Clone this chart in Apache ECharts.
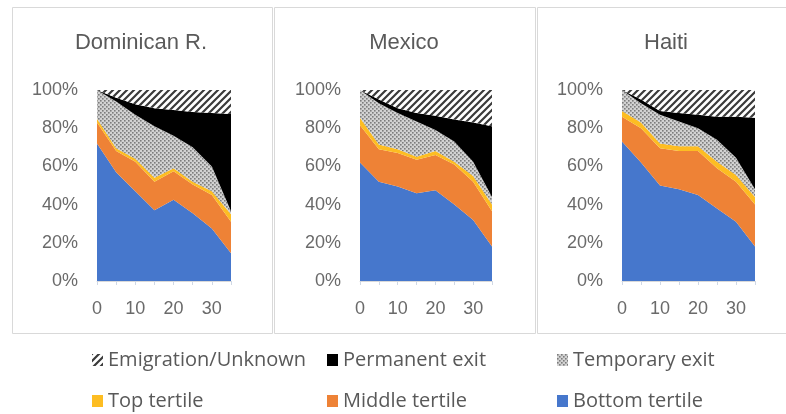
<!DOCTYPE html>
<html>
<head>
<meta charset="utf-8">
<script src="https://cdn.jsdelivr.net/npm/echarts@6/dist/echarts.min.js"></script>
<style>
  html, body { margin: 0; padding: 0; background: #ffffff; }
  #chart { width: 786px; height: 414px; }
</style>
</head>
<body>
<div id="chart"></div>
<script>
// Years since entry (x categories) and panel titles
const years = ['0', '5', '10', '15', '20', '25', '30', '35'];
const countries = ['Dominican R.', 'Mexico', 'Haiti'];

// Shares (%) per status; one row per country, in the order of `countries`
const bottomTertile = [
  [72, 57, 47, 37, 42.5, 35.5, 27.5, 14.5],
  [62, 52, 49.5, 46, 47.5, 40, 32, 18],
  [73, 62, 50, 48, 45, 38, 31, 18]
];
const middleTertile = [
  [11, 11, 15.5, 15, 15, 15, 17.5, 16.5],
  [19.5, 17, 17.5, 17.5, 18.5, 21, 20, 18.5],
  [13, 18, 19.5, 20, 23, 21, 21, 22]
];
const topTertile = [
  [2, 1.5, 1.5, 2, 1.5, 1.5, 2, 4],
  [4, 2.5, 2, 1.5, 2, 1.5, 3, 3.5],
  [3, 3, 2.5, 2.5, 2.5, 3.5, 3.5, 4]
];
const temporaryExit = [
  [15, 24.5, 23, 27, 17, 18, 13, 1.5],
  [14.5, 21.5, 19, 18.5, 11, 10.5, 7.5, 4],
  [11, 10, 15, 13, 9.5, 11.5, 9, 4]
];
const permanentExit = [
  [0, 2, 5.5, 9.5, 13.5, 18.5, 28, 51],
  [0, 2, 2.5, 4.5, 7.5, 11.5, 20.5, 37],
  [0, 2, 2, 4.5, 7, 12, 21.5, 37.5]
];
const emigrationUnknown = [
  [0, 4, 7.5, 9.5, 10.5, 11.5, 12, 12.5],
  [0, 5, 9.5, 12, 13.5, 15.5, 17, 19],
  [0, 5, 11, 12, 13, 14, 14, 14.5]
];

// Fill patterns
function hatchPattern() {
  const s = 7;
  const c = document.createElement('canvas');
  c.width = s; c.height = s;
  const g = c.getContext('2d');
  g.fillStyle = '#ffffff';
  g.fillRect(0, 0, s, s);
  g.strokeStyle = '#3a3a3a';
  g.lineWidth = 2.2;
  g.beginPath();
  g.moveTo(-1, s + 1); g.lineTo(s + 1, -1);
  g.moveTo(-s / 2 - 1, s / 2 + 1); g.lineTo(s / 2 + 1, -s / 2 - 1);
  g.moveTo(s / 2 - 1, s * 1.5 + 1); g.lineTo(s * 1.5 + 1, s / 2 - 1);
  g.stroke();
  return c;
}
function dotPattern() {
  const c = document.createElement('canvas');
  c.width = 4; c.height = 4;
  const g = c.getContext('2d');
  g.fillStyle = '#d2d2d2';
  g.fillRect(0, 0, 4, 4);
  g.fillStyle = '#7c7c7c';
  g.fillRect(0, 0, 1.6, 1.6);
  g.fillRect(2, 2, 1.6, 1.6);
  return c;
}

const hatchFill = { image: hatchPattern(), repeat: 'repeat' };
const dotFill = { image: dotPattern(), repeat: 'repeat' };

// Stack order: bottom of the stack first
const statusDefs = [
  { name: 'Bottom tertile', values: bottomTertile, color: '#4677cc' },
  { name: 'Middle tertile', values: middleTertile, color: '#ee8236' },
  { name: 'Top tertile', values: topTertile, color: '#fdbd22' },
  { name: 'Temporary exit', values: temporaryExit, color: dotFill },
  { name: 'Permanent exit', values: permanentExit, color: '#000000' },
  { name: 'Emigration/Unknown', values: emigrationUnknown, color: hatchFill }
];

const gridBoxes = [
  { left: 97, top: 90, width: 134, height: 191 },
  { left: 360, top: 90, width: 132, height: 191 },
  { left: 622, top: 90, width: 133, height: 191 }
];
const titleCenters = [141, 404, 666];
const panelFrames = [
  { x: 12, y: 7, w: 260, h: 326 },
  { x: 274, y: 7, w: 261, h: 326 },
  { x: 537, y: 7, w: 262, h: 326 }
];

const axisFont = { fontFamily: 'Liberation Sans, Arial, sans-serif', fontSize: 18, color: '#6a6a6a' };

const grid = gridBoxes.map(b => Object.assign({ containLabel: false }, b));
const xAxis = gridBoxes.map((b, i) => ({
  type: 'category',
  gridIndex: i,
  data: years,
  boundaryGap: false,
  axisLine: { show: true, lineStyle: { color: '#d9d9d9', width: 1 } },
  axisTick: { show: true, interval: 0, length: 4, lineStyle: { color: '#d0d8e4' } },
  axisLabel: Object.assign({ interval: 1, margin: 19 }, axisFont),
  splitLine: { show: false }
}));
const yAxis = gridBoxes.map((b, i) => ({
  type: 'value',
  gridIndex: i,
  min: 0, max: 100, interval: 20,
  axisLine: { show: false },
  axisTick: { show: false },
  splitLine: { show: false },
  axisLabel: Object.assign({ formatter: '{value}%', margin: 19 }, axisFont)
}));

const series = [];
for (let p = 0; p < countries.length; p++) {
  statusDefs.forEach(def => {
    series.push({
      type: 'line',
      name: def.name,
      xAxisIndex: p,
      yAxisIndex: p,
      stack: 'panel' + p,
      data: def.values[p],
      symbol: 'none',
      showSymbol: false,
      lineStyle: { width: 0 },
      itemStyle: { color: def.color },
      areaStyle: { color: def.color, opacity: 1 },
      emphasis: { disabled: true },
      silent: true,
      animation: false
    });
  });
}

// Legend: two rows of three entries
const legendSlots = [
  { name: 'Emigration/Unknown', left: 92, top: 350 },
  { name: 'Permanent exit', left: 327, top: 350 },
  { name: 'Temporary exit', left: 557, top: 350 },
  { name: 'Top tertile', left: 92, top: 391 },
  { name: 'Middle tertile', left: 327, top: 391 },
  { name: 'Bottom tertile', left: 557, top: 391 }
];
const legend = legendSlots.map(s => ({
  data: [s.name],
  left: s.left,
  top: s.top,
  padding: 0,
  icon: 'rect',
  itemWidth: 11,
  itemHeight: 12,
  itemGap: 0,
  selectedMode: false,
  textStyle: { fontFamily: 'Open Sans, sans-serif', fontSize: 20, color: '#595959', padding: [0, 0, 0, 0] }
}));

const graphic = [];
panelFrames.forEach(f => {
  graphic.push({
    type: 'rect', silent: true, z: -1,
    shape: { x: f.x + 0.5, y: f.y + 0.5, width: f.w, height: f.h },
    style: { fill: 'none', stroke: '#d9d9d9', lineWidth: 1 }
  });
});
countries.forEach((c, i) => {
  graphic.push({
    type: 'text', silent: true,
    x: titleCenters[i], y: 43,
    style: {
      text: c, align: 'center', verticalAlign: 'middle',
      fontFamily: 'Liberation Sans, Arial, sans-serif', fontSize: 22, fill: '#5a5a5a'
    }
  });
});

const chart = echarts.init(document.getElementById('chart'), null, { renderer: 'canvas' });
chart.setOption({
  animation: false,
  backgroundColor: '#ffffff',
  grid, xAxis, yAxis, series, legend, graphic
});
</script>
</body>
</html>
